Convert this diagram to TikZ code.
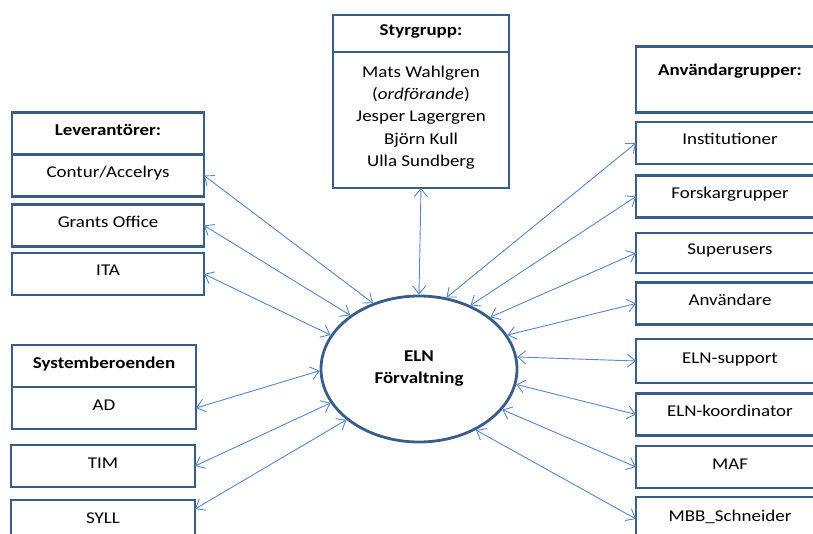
\documentclass[tikz,border=0pt]{standalone}
\usepackage{fontspec}
\setmainfont{Carlito}[FakeStretch=1.15]
\usetikzlibrary{arrows.meta,positioning,shapes.geometric}
\definecolor{edgeblue}{RGB}{56,93,138}
\definecolor{linkblue}{RGB}{88,134,198}
\tikzset{
  panel/.style={draw=edgeblue,line width=2.6pt,fill=white,align=center,
    inner sep=2pt,outer sep=0pt,font=\fontsize{16.5}{22.3}\selectfont},
  cell/.style={panel,text height=12pt,text depth=8pt},
  leftcell/.style={cell,minimum width=192pt,minimum height=42pt},
  syscell/.style={cell,minimum width=184pt,minimum height=42pt},
  rightcell/.style={cell,minimum width=188pt,minimum height=42pt},
  head/.style={font=\fontsize{16.5}{22.3}\selectfont\bfseries},
  hub/.style={ellipse,draw=edgeblue,line width=2.8pt,align=center,
    minimum width=196pt,minimum height=146pt,
    font=\fontsize{16.5}{22}\selectfont\bfseries},
  link/.style={{Straight Barb[length=8pt,width=13pt]}-{Straight Barb[length=8pt,width=13pt]},
    draw=linkblue,line width=0.9pt}
}
\begin{document}
\begin{tikzpicture}[x=1pt,y=-1pt,node distance=0pt]
\useasboundingbox (0,0) rectangle (813,534);
\node[hub] (eln) at (419,369) {ELN\\Förvaltning};
\node[leftcell,head] (levhead) at (108,133.5) {Leverantörer:};
\node[leftcell,below=of levhead] (contur) {Contur/Accelrys};
\node[leftcell] (grants) at (108,225.5) {Grants Office};
\node[leftcell] (ita) at (108,274) {ITA};
\node[syscell,head] (syshead) at (104,366) {Systemberoenden};
\node[syscell,below=of syshead] (ad) {AD};
\node[syscell] (tim) at (103,466) {TIM};
\node[syscell] (syll) at (103,521) {SYLL};
\node[panel,head,minimum width=176pt,minimum height=37pt,text height=12pt,text depth=7pt] (styrhead) at (421,33.5) {Styrgrupp:};
\node[panel,minimum width=176pt,minimum height=136pt,text depth=8pt,below=of styrhead] (styrbody)
  {Mats Wahlgren\\(\textit{ordförande})\\Jesper Lagergren\\Björn Kull\\Ulla Sundberg};
\node[rightcell,head,minimum height=66pt,text depth=20pt] (anvhead) at (730,79.5) {Användargrupper:};
\node[rightcell] (inst) at (730,143) {Institutioner};
\node[rightcell] (forsk) at (730,196.5) {Forskargrupper};
\node[rightcell,minimum height=40pt] (superu) at (730,253) {Superusers};
\node[rightcell] (anvand) at (730,303.5) {Användare};
\node[rightcell,minimum height=44pt] (elnsup) at (730,361) {ELN-support};
\node[rightcell] (elnkoord) at (730,414.5) {ELN-koordinator};
\node[rightcell] (maf) at (730,467) {MAF};
\node[rightcell,minimum height=44pt] (mbb) at (730,519) {MBB\_Schneider};
\draw[link] (styrbody.south) -- (eln.north);
\draw[link] (contur.east) -- (eln.125); \draw[link] (grants.east) -- (eln.142);
\draw[link] (ita.east) -- (eln.159); \draw[link] (ad.east) -- (eln.181);
\draw[link] (tim.east) -- (eln.201); \draw[link] ([yshift=12pt]syll.east) -- (eln.215);
\draw[link] (inst.west) -- (eln.69); \draw[link] (forsk.west) -- (eln.51);
\draw[link] (superu.west) -- (eln.36); \draw[link] (anvand.west) -- (eln.21);
\draw[link] (elnsup.west) -- (eln.7); \draw[link] (elnkoord.west) -- (eln.-9);
\draw[link] (maf.west) -- (eln.-26); \draw[link] (mbb.west) -- (eln.-47);
\end{tikzpicture}
\end{document}
